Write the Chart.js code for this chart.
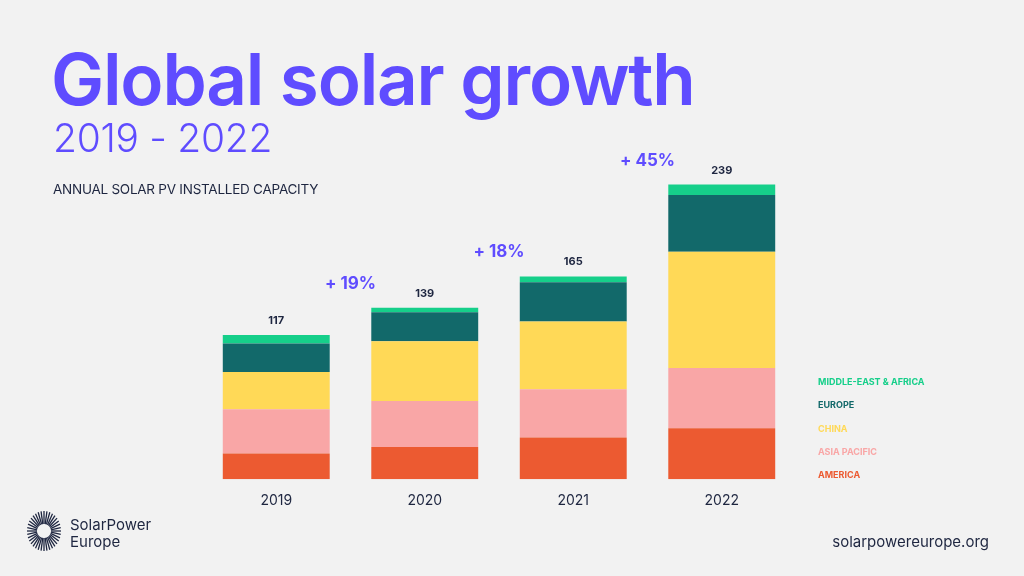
<!DOCTYPE html>
<html>
<head>
<meta charset="utf-8">
<script src="https://cdn.jsdelivr.net/npm/chart.js@4"></script>
<style>
  html, body { margin: 0; padding: 0; }
  body {
    width: 1024px; height: 576px; overflow: hidden;
    background: #f2f2f2; position: relative;
    font-family: Inter, "Noto Sans", sans-serif; color: #1e2640;
  }
  #chartWrap { position: absolute; left: 0; top: 0; width: 1024px; height: 576px; }
  .title {
    position: absolute; left: 51px; top: 44px; margin: 0;
    font-size: 71px; font-weight: 600; letter-spacing: -1.2px; color: #5f4cff; line-height: 1;
  }
  .subtitle {
    position: absolute; left: 53px; top: 118px;
    font-size: 39px; font-weight: 300; color: #5f4cff; line-height: 1; letter-spacing: -0.3px;
  }
  .caption {
    position: absolute; left: 53px; top: 181px;
    font-size: 13.5px; letter-spacing: -0.25px; color: #1e2640;
  }
  #legend { position: absolute; left: 818px; top: 376px; }
  #legend div {
    font-size: 9px; font-weight: 700; height: 23.3px; letter-spacing: 0;
  }
  .logo { position: absolute; left: 26px; top: 509px; }
  .logoText {
    position: absolute; left: 70px; top: 516px;
    font-size: 15px; line-height: 17px; color: #1e2640;
  }
  .site {
    position: absolute; right: 35px; top: 532px;
    font-size: 15px; color: #1e2640;
  }
</style>
</head>
<body>
<div id="chartWrap"><canvas id="solarChart"></canvas></div>
<h1 class="title">Global solar growth</h1>
<div class="subtitle">2019 - 2022</div>
<div class="caption">ANNUAL SOLAR PV INSTALLED CAPACITY</div>
<div id="legend"></div>
<svg class="logo" width="38" height="46" id="sun"></svg>
<div class="logoText">SolarPower<br>Europe</div>
<div class="site">solarpowereurope.org</div>

<script>
// Data (GW)
const years = ['2019', '2020', '2021', '2022'];
const america = [20.8, 26.2, 33.8, 41.4];
const asiaPacific = [35.9, 37.3, 39.2, 48.7];
const china = [30.3, 48.4, 54.9, 94.3];
const europe = [23.0, 23.5, 31.9, 46.2];
const middleEastAfrica = [7.0, 3.6, 4.6, 8.4];
const totals = [117, 139, 165, 239];
const growth = ['+ 19%', '+ 18%', '+ 45%'];

const purple = '#5f4cff';
const navy = '#1e2640';

const datasets = [
    { label: 'AMERICA', data: america, backgroundColor: '#ec5a31' },
    { label: 'ASIA PACIFIC', data: asiaPacific, backgroundColor: '#f9a6a6' },
    { label: 'CHINA', data: china, backgroundColor: '#ffd957' },
    { label: 'EUROPE', data: europe, backgroundColor: '#12696a' },
    { label: 'MIDDLE-EAST & AFRICA', data: middleEastAfrica, backgroundColor: '#16cf8a' }
];

// Totals above bars and growth labels between bars
const labelsPlugin = {
    id: 'barLabels',
    afterDatasetsDraw(chart) {
        const ctx = chart.ctx;
        const x = chart.scales.x;
        const y = chart.scales.y;
        ctx.save();
        ctx.textAlign = 'center';
        ctx.textBaseline = 'middle';
        totals.forEach(function(t, i) {
            ctx.fillStyle = navy;
            ctx.font = '700 11px Inter, sans-serif';
            ctx.fillText(String(t), x.getPixelForValue(i), y.getPixelForValue(t) - 14);
        });
        growth.forEach(function(g, i) {
            const cx = (x.getPixelForValue(i) + x.getPixelForValue(i + 1)) / 2;
            ctx.fillStyle = purple;
            ctx.font = '700 17px Inter, sans-serif';
            ctx.fillText(g, cx, y.getPixelForValue(totals[i + 1]) - 24);
        });
        ctx.restore();
    }
};

new Chart(document.getElementById('solarChart'), {
    type: 'bar',
    data: { labels: years, datasets: datasets },
    options: {
        responsive: true,
        maintainAspectRatio: false,
        animation: false,
        layout: { padding: { left: 202, right: 228, top: 171, bottom: 62 } },
        datasets: { bar: { barPercentage: 0.72, categoryPercentage: 1, borderWidth: 0 } },
        plugins: { legend: { display: false }, tooltip: { enabled: false } },
        scales: {
            x: {
                stacked: true,
                grid: { display: false },
                border: { display: false },
                ticks: { color: navy, font: { family: 'Inter', size: 14 }, padding: 5 }
            },
            y: { stacked: true, display: false, min: 0, max: 250 }
        }
    },
    plugins: [labelsPlugin]
});

// Legend, top to bottom
const legend = document.getElementById('legend');
datasets.slice().reverse().forEach(function(d) {
    const el = document.createElement('div');
    el.textContent = d.label;
    el.style.color = d.backgroundColor;
    legend.appendChild(el);
});

// Sun logo rays
const sun = document.getElementById('sun');
let rays = '';
for (let i = 0; i < 36; i++) {
    const a = i * Math.PI * 2 / 36;
    const x1 = 18 + Math.cos(a) * 7, y1 = 22 + Math.sin(a) * 7;
    const x2 = 18 + Math.cos(a) * 17, y2 = 22 + Math.sin(a) * 20;
    rays += '<line x1="' + x1 + '" y1="' + y1 + '" x2="' + x2 + '" y2="' + y2 + '" stroke="#1e2640" stroke-width="1.3"/>';
}
sun.innerHTML = rays;
</script>
</body>
</html>
